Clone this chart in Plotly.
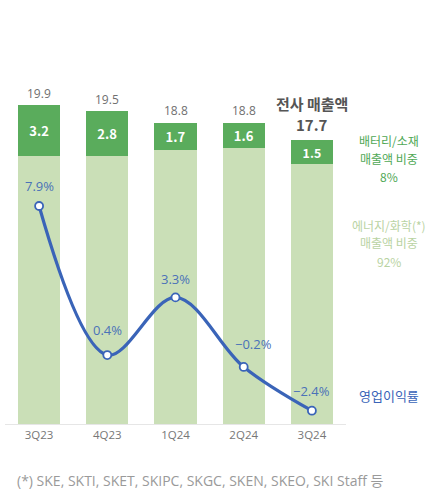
import plotly.graph_objects as go

quarters = ["3Q23", "4Q23", "1Q24", "2Q24", "3Q24"]
total_sales = [19.9, 19.5, 18.8, 18.8, 17.7]
battery_sales = [3.2, 2.8, 1.7, 1.6, 1.5]
op_margin = [7.9, 0.4, 3.3, -0.2, -2.4]
energy_sales = [round(t - b, 1) for t, b in zip(total_sales, battery_sales)]

battery_label_lines = ["배터리/소재", "매출액 비중", "8%"]
energy_label_lines = ["에너지/화학(*)", "매출액 비중", "92%"]

FONT = "Noto Sans CJK KR"
LATIN = "Open Sans, Noto Sans CJK KR"
DARK = "#5aac5c"
LIGHT = "#cadfb7"
BLUE = "#3a64b8"

fig = go.Figure()
fig.add_trace(go.Bar(x=quarters, y=energy_sales, marker=dict(color=LIGHT, line=dict(width=0)),
                     width=0.62, hoverinfo="skip", yaxis="y"))
fig.add_trace(go.Bar(x=quarters, y=battery_sales, marker=dict(color=DARK, line=dict(width=0)),
                     width=0.62, text=[f"{v:.1f}" for v in battery_sales], textposition="inside",
                     insidetextanchor="middle",
                     textfont=dict(color="white", size=13, family=FONT, weight="bold"),
                     hoverinfo="skip", yaxis="y"))
fig.add_trace(go.Scatter(x=quarters, y=op_margin, mode="lines+markers", yaxis="y2",
                         line=dict(color=BLUE, width=3.2, shape="spline", smoothing=1.0),
                         marker=dict(size=8, color="white", line=dict(color=BLUE, width=1.8))))

annotations = []
for q, t in zip(quarters[:-1], total_sales[:-1]):
    annotations.append(dict(x=q, y=t, xref="x", yref="y", text=f"{t}", showarrow=False,
                            yshift=12, font=dict(size=12, color="#707070", family=LATIN)))
annotations.append(dict(x=quarters[-1], y=total_sales[-1], xref="x", yref="y",
                        text=f"<b>{total_sales[-1]}</b>", showarrow=False, yshift=16,
                        font=dict(size=15, color="#555555", family=FONT)))
annotations.append(dict(x=quarters[-1], y=total_sales[-1], xref="x", yref="y",
                        text="<b>전사 매출액</b>", showarrow=False, yshift=37,
                        font=dict(size=15, color="#555555", family=FONT)))

label_shift = [(0, 20), (0, 25), (0, 18), (10, 23), (0, 20)]
for q, m, (dx, dy) in zip(quarters, op_margin, label_shift):
    txt = f"{m:.1f}%".replace("-", "−")
    annotations.append(dict(x=q, y=m, xref="x", yref="y2", text=txt, showarrow=False,
                            xshift=dx, yshift=dy, font=dict(size=13, color="#4a72b8", family=LATIN)))

def px_x(px):
    return (px - 5) / 341

def px_y(py):
    return (424 - py) / 344

for i, line in enumerate(battery_label_lines):
    annotations.append(dict(x=px_x(389), y=px_y(140 + 18 * i), xref="paper", yref="paper",
                            xanchor="center", yanchor="middle", text=line, showarrow=False,
                            borderpad=0, borderwidth=0,
                            font=dict(size=12, color="#4fa856", family=FONT)))
for i, line in enumerate(energy_label_lines):
    annotations.append(dict(x=px_x(389), y=px_y(225 + 18 * i), xref="paper", yref="paper",
                            xanchor="center", yanchor="middle", text=line, showarrow=False,
                            borderpad=0, borderwidth=0,
                            font=dict(size=12, color="#b9d3a3", family=FONT)))
annotations.append(dict(x=px_x(389), y=px_y(395), xref="paper", yref="paper",
                        xanchor="center", yanchor="middle",
                        text="영업이익률", showarrow=False,
                        font=dict(size=13, color="#3a64b8", family=FONT)))
annotations.append(dict(x=px_x(15), y=px_y(480), xref="paper", yref="paper",
                        xanchor="left", yanchor="middle",
                        text="(*) SKE, SKTI, SKET, SKIPC, SKGC, SKEN, SKEO, SKI Staff 등",
                        showarrow=False, font=dict(size=14, color="#9a9a9a", family=LATIN)))

fig.update_layout(
    width=436, height=501, barmode="stack", showlegend=False,
    margin=dict(l=5, r=90, t=80, b=77),
    paper_bgcolor="white", plot_bgcolor="white",
    font=dict(family=FONT),
    xaxis=dict(type="category", range=[-0.5, 4.5], showline=True, linecolor="#e6e6e6", linewidth=1,
               ticks="", tickfont=dict(size=11.5, color="#777777", family=LATIN), showgrid=False),
    yaxis=dict(range=[0, 21.46], visible=False, showgrid=False, zeroline=False),
    yaxis2=dict(range=[-3.07, 14.24], overlaying="y", visible=False, showgrid=False, zeroline=False),
    annotations=annotations,
)

fig.write_html("out.html", config={"displayModeBar": False},
               post_script="document.body.style.margin='0px';document.body.style.overflow='hidden';")
